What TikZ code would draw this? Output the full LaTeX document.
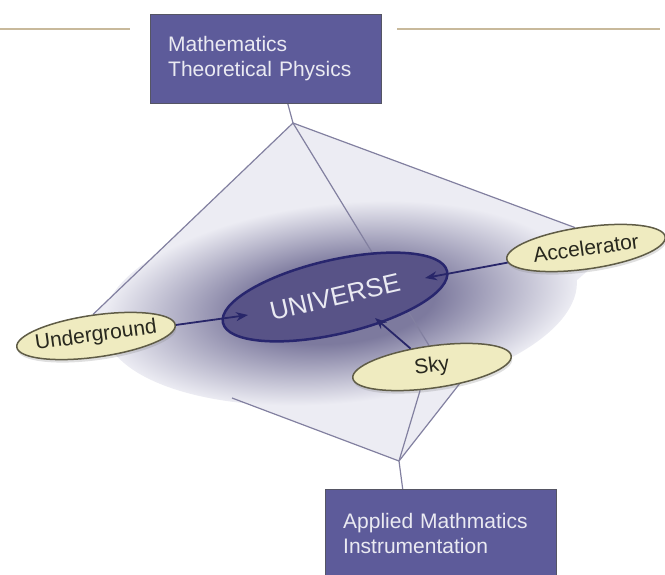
\documentclass[tikz,border=0pt]{standalone}
\usepackage{fontspec}
\setmainfont{Liberation Sans}
\usetikzlibrary{arrows.meta, shapes.geometric, shadows}
\definecolor{boxcolor}{RGB}{93, 91, 154}
\definecolor{boxline}{RGB}{85, 85, 100}
\definecolor{boxtext}{RGB}{234, 234, 242}
\definecolor{univfill}{RGB}{88, 83, 135}
\definecolor{univline}{RGB}{40, 38, 110}
\definecolor{podfill}{RGB}{239, 235, 192}
\definecolor{podline}{RGB}{95, 92, 70}
\definecolor{podtext}{RGB}{40, 40, 30}
\definecolor{arrowcolor}{RGB}{40, 38, 105}
\definecolor{linkcolor}{RGB}{130, 128, 160}
\definecolor{rulecolor}{RGB}{200, 185, 155}
\definecolor{diamondfill}{RGB}{236, 236, 243}
\definecolor{hazecolor}{RGB}{125, 122, 158}
\pgfdeclareradialshading{haze}{\pgfpoint{0bp}{0bp}}{color(0bp)=(hazecolor); color(10bp)=(hazecolor); color(25bp)=(diamondfill); color(50bp)=(diamondfill)}
\pgfdeclarelayer{hazelayer}
\pgfdeclarelayer{linklayer}
\pgfsetlayers{hazelayer,linklayer,main}
\newcommand{\ctext}[1]{\makebox[0pt]{#1}}

\begin{document}
\begin{tikzpicture}[
    x=1pt, y=-1pt,
    box/.style={draw=boxline, fill=boxcolor, text=boxtext, anchor=north west,
                text width=195pt, inner xsep=18pt, minimum height=89pt,
                align=left, font=\fontsize{21}{25}\selectfont},
    pod/.style={ellipse, draw=podline, line width=1.5pt, fill=podfill, text=podtext,
                minimum width=160pt, minimum height=42pt, inner sep=0pt, rotate=8,
                font=\fontsize{21}{21}\selectfont,
                drop shadow={shadow xshift=1pt, shadow yshift=-3pt, opacity=.25}},
    link/.style={draw=linkcolor, line width=1.2pt},
    arr/.style={-{Stealth[length=12pt, width=9pt]}, line width=1.8pt, arrowcolor}
]
\useasboundingbox (0,0) rectangle (665,575);
% Rules beside the top box
\draw[rulecolor, line width=1.5pt] (0,29) -- (130,29);
\draw[rulecolor, line width=1.5pt] (397,29) -- (660,29);
% Boxes
\node[box] (top) at (150,14) {Mathematics\\Theoretical Physics};
\node[box] (bot) at (325,489) {Applied Mathmatics\\Instrumentation};
% Universe and its sources
\node[ellipse, draw=univline, line width=2.5pt, fill=univfill, text=boxtext,
      minimum width=230pt, minimum height=74pt, inner sep=0pt, rotate=13,
      font=\fontsize{26}{26}\selectfont] (univ) at (335,297) {\ctext{UNIVERSE}};
\node[pod] (under) at (96,336) {\ctext{Underground}};
\node[pod] (acc) at (586,248) {\ctext{Accelerator}};
\node[pod] (sky) at (432,367) {\ctext{Sky}};
% Junctions
\coordinate (topj) at (293,123);
\coordinate (botj) at (399,461);
\coordinate (lowl) at (232,398);
\coordinate (tipU) at (248,315);
\coordinate (tipA) at (425,278);
\coordinate (tipS) at (375,318);
\begin{pgfonlayer}{hazelayer}
    \fill[diamondfill] (topj) -- (acc.110) -- (acc.south) -- (sky.320)
        -- (botj) -- (lowl) -- (under.north) -- cycle;
    \begin{scope}[transform canvas={shift={(340,303)}, rotate=6}]
        \shade[shading=haze] (0,0) ellipse [x radius=238, y radius=100];
    \end{scope}
\end{pgfonlayer}
\begin{pgfonlayer}{linklayer}
    % Upper links
    \draw[link] ([xshift=22pt]top.south) -- (topj);
    \foreach \t in {under.north, sky.north, acc.110}
        \draw[link] (topj) -- (\t);
    % Lower links
    \draw[link] (lowl) -- (botj);
    \foreach \t in {sky.235, sky.320}
        \draw[link] (botj) -- (\t);
    \draw[link] (botj) -- ([xshift=-38pt]bot.north);
\end{pgfonlayer}
% Arrows into the universe
\draw[arr] (under) -- (tipU);
\draw[arr] (acc) -- (tipA);
\draw[arr] (sky) -- (tipS);
\end{tikzpicture}
\end{document}
